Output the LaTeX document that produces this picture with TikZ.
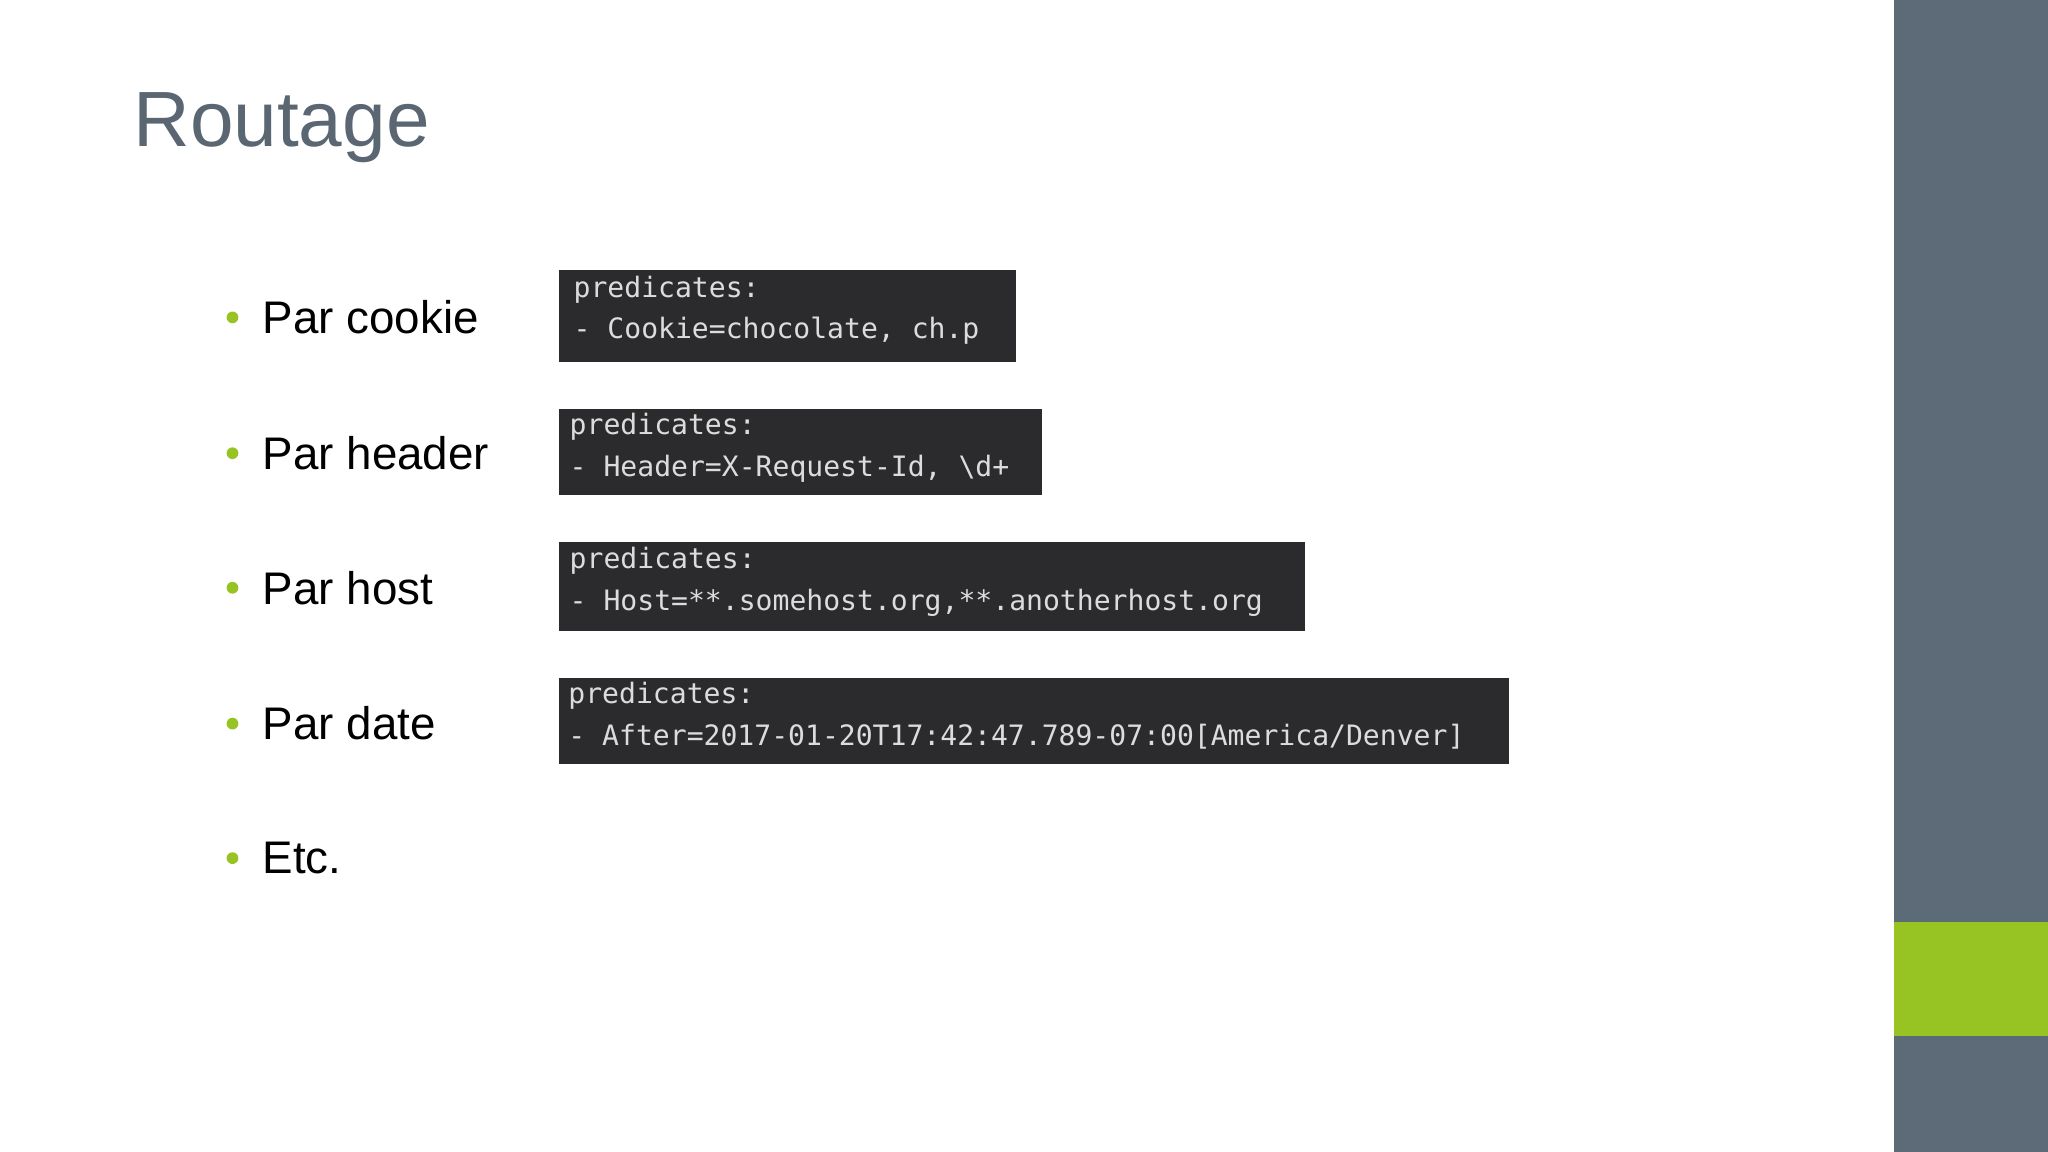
\documentclass[tikz,border=0pt]{standalone}
\usepackage{fontspec}
\setmainfont{Liberation Sans}
\newfontfamily\codefont{DejaVu Sans Mono}
\definecolor{slate}{HTML}{5D6B78}
\definecolor{lime}{HTML}{97C423}
\definecolor{codebg}{HTML}{2B2B2E}
\definecolor{codefg}{HTML}{DCDCDC}
\definecolor{titlec}{HTML}{5A6773}
\begin{document}
\begin{tikzpicture}[x=1pt,y=-1pt,
  item/.style={anchor=west,font=\fontsize{35}{40}\selectfont,text=black,inner sep=0pt},
  dot/.style={circle,fill=lime,minimum size=9pt,inner sep=0pt},
  codebox/.style={fill=codebg,draw=none},
  codetext/.style={anchor=north west,align=left,text=codefg,inner sep=0pt,font=\codefont\fontsize{21.5}{32}\selectfont}]
\useasboundingbox (0,0) rectangle (1568,882);
\fill[white] (0,0) rectangle (1568,882);
\fill[slate] (1450,0) rectangle (1568,882);
\fill[lime] (1450,706) rectangle (1568,793);
\node[anchor=base west,inner sep=0pt,text=titlec,font=\fontsize{60}{70}\selectfont] (title) at (102,112) {Routage};
\foreach \n/\y/\t in {a/243/Par cookie,b/347/Par header,c/450/Par host,d/554/Par date,e/657/Etc.}{
  \node[dot] (d\n) at (178,\y) {};
  \node[item] (t\n) at (201,\y) {\t};
}
\fill[codebox] (428,207) rectangle (778,277);
\node[codetext] (c1) at (439,211) {predicates:\\- Cookie=chocolate, ch.p};
\fill[codebox] (428,313) rectangle (798,379);
\node[codetext] (c2) at (436,316) {predicates:\\- Header=X-Request-Id, \textbackslash d+};
\fill[codebox] (428,415) rectangle (999,483);
\node[codetext] (c3) at (436,419) {predicates:\\- Host=**.somehost.org,**.anotherhost.org};
\fill[codebox] (428,519) rectangle (1155,585);
\node[codetext] (c4) at (435,522) {predicates:\\- After=2017-01-20T17:42:47.789-07:00[America/Denver]};
\end{tikzpicture}
\end{document}
